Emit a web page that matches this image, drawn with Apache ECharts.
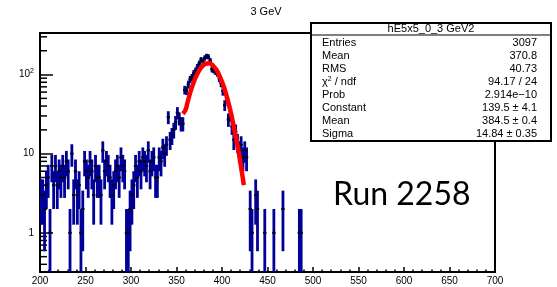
<!DOCTYPE html>
<html>
<head>
<meta charset="utf-8">
<script src="https://cdn.jsdelivr.net/npm/echarts@6/dist/echarts.min.js"></script>
<style>
  html, body { margin: 0; padding: 0; background: #fff; }
  #chart { width: 557px; height: 287px; }
</style>
</head>
<body>
<div id="chart"></div>
<script>
// histogram: 2-unit bins starting at 200 (bin centre = 201 + 2*i)
const binStart = 200;
const binWidth = 2;
const counts = [
  3, 3, 2, 4, 5, 1, 7, 4, 7, 4,
  6, 5, 7, 5, 8, 6, 1, 10, 3, 6,
  3, 4, 1, 2, 8, 6, 5, 8, 6, 3,
  7, 5, 5, 3, 11, 6, 8, 7, 5, 3,
  4, 6, 7, 5, 9, 7, 6, 1, 1, 2,
  3, 4, 7, 5, 8, 6, 9, 8, 7, 11,
  6, 8, 9, 5, 5, 9, 8, 12, 10, 13,
  29, 15, 17, 20, 25, 33, 28, 24, 24, 64,
  63, 75, 87, 92, 104, 112, 125, 138, 154, 147,
  162, 170, 168, 150, 117, 114, 109, 104, 90, 78,
  62, 41, 50, 27, 31, 22, 15, 19, 14, 11,
  13, 9, 11, 9, 0, 2, 1, 0, 3, 2,
  0, 0, 0, 1, 0, 0, 0, 0, 1, 0,
  0, 0, 0, 2, 0, 0, 0, 0, 0, 0,
  0, 0, 1, 1
];

// gaussian fit drawn in red
const fitX = [357, 360, 362, 366, 370, 374, 378, 382, 386, 390, 394, 398, 402, 406, 410, 414, 418, 422, 424];
const fitY = [32, 36, 44, 64, 86, 108, 126, 137, 139, 130, 114, 92, 70, 49, 32, 19, 11, 5.7, 4.0];

const yMinorTicks = [0.4, 0.5, 0.6, 0.7, 0.8, 0.9, 2, 3, 4, 5, 6, 7, 8, 9, 20, 30, 40, 50, 60, 70, 80, 90, 200, 300];

const statsTitle = 'hE5x5_0_3 GeV2';
const statLabels = ['Entries', 'Mean', 'RMS', '{n|χ}{s|2}{n| / ndf}', 'Prob', 'Constant', 'Mean', 'Sigma'];
const statValues = ['3097', '370.8', '40.73', '94.17 / 24', '2.914e\u221210', '139.5 \u00b1 4.1', '384.5 \u00b1 0.4', '14.84 \u00b1 0.35'];

const yMin = 0.32, yMax = 335;
const blue = '#000099';
const font = '"Liberation Sans", Arial, sans-serif';

const binData = [];
counts.forEach((c, i) => {
  if (c > 0) binData.push([binStart + binWidth * i + binWidth / 2, c]);
});
const fitData = fitX.map((x, i) => [x, fitY[i]]);

function renderErr(params, api) {
  const x = api.value(0), v = api.value(1);
  const cs = params.coordSys;
  const err = Math.sqrt(v);
  const top = api.coord([x, v + err]);
  const lo = v - err;
  const bottomY = lo > yMin ? api.coord([x, lo])[1] : cs.y + cs.height;
  return {
    type: 'rect',
    shape: { x: top[0] - 1.4, y: top[1], width: 2.8, height: bottomY - top[1] },
    style: { fill: blue }
  };
}

function renderMarker(params, api) {
  const p = api.coord([api.value(0), api.value(1)]);
  return {
    type: 'rect',
    shape: { x: p[0] - 1.7, y: p[1] - 1, width: 3.4, height: 2 },
    style: { fill: '#000' }
  };
}

function renderMinorTick(params, api) {
  const p = api.coord([binStart, api.value(0)]);
  return {
    type: 'line',
    shape: { x1: p[0], y1: p[1], x2: p[0] + 7, y2: p[1] },
    style: { stroke: '#000', lineWidth: 1.5 }
  };
}

const graphics = [
  { type: 'text', x: 266, y: 12, style: { text: '3 GeV', font: '11px ' + font, fill: '#000', align: 'center', verticalAlign: 'middle' } },
  { type: 'rect', shape: { x: 311, y: 23, width: 240, height: 118 }, style: { fill: '#fff', stroke: '#000', lineWidth: 2 }, z: 10 },
  { type: 'line', shape: { x1: 311, y1: 35, x2: 551, y2: 35 }, style: { stroke: '#000', lineWidth: 1.2 }, z: 11 },
  { type: 'text', x: 431, y: 29, style: { text: statsTitle, font: '11px ' + font, fill: '#000', align: 'center', verticalAlign: 'middle' }, z: 11 },
  { type: 'text', x: 333, y: 195, style: { text: 'Run 2258', font: '32px Lato, "Open Sans", sans-serif', fill: '#000', align: 'left', verticalAlign: 'middle' }, z: 11 }
];
statLabels.forEach((lab, k) => {
  const y = 42.6 + 13.1 * k;
  graphics.push({ type: 'text', x: 322, y: y, z: 11, style: {
    text: lab, font: '11px ' + font, fill: '#000', align: 'left', verticalAlign: 'middle',
    rich: { n: { fontSize: 11, fontFamily: font }, s: { fontSize: 7, fontFamily: font, verticalAlign: 'bottom', padding: [0, 0, 6, 0] } }
  } });
  graphics.push({ type: 'text', x: 537, y: y, z: 11, style: {
    text: statValues[k], font: '11px ' + font, fill: '#000', align: 'right', verticalAlign: 'middle'
  } });
});

const chart = echarts.init(document.getElementById('chart'), null, { renderer: 'canvas' });
chart.setOption({
  animation: false,
  backgroundColor: '#fff',
  grid: { left: 40, top: 33, right: 62, bottom: 15, containLabel: false, outerBoundsMode: 'none',
          show: true, borderColor: '#000', borderWidth: 2, backgroundColor: 'transparent' },
  xAxis: {
    type: 'value', min: 200, max: 700, interval: 50,
    axisLine: { show: true, lineStyle: { color: '#000', width: 2 } },
    axisTick: { show: true, inside: true, length: 5, lineStyle: { color: '#000', width: 1.5 } },
    minorTick: { show: true, splitNumber: 5, length: 2.5, lineStyle: { color: '#000', width: 1.5 } },
    axisLabel: { show: true, margin: 4, fontSize: 10, fontFamily: font, color: '#000' },
    splitLine: { show: false }, minorSplitLine: { show: false }
  },
  yAxis: {
    type: 'log', logBase: 10, min: yMin, max: yMax,
    axisLine: { show: true, lineStyle: { color: '#000', width: 2 } },
    axisTick: { show: true, inside: true, length: 13, lineStyle: { color: '#000', width: 1.5 } },
    axisLabel: {
      show: true, margin: 6, fontSize: 10, fontFamily: font, color: '#000',
      formatter: v => {
        const l = Math.log10(v);
        if (Math.abs(l - Math.round(l)) > 1e-6) return '';
        const e = Math.round(l);
        if (e === 0) return '1';
        if (e === 1) return '10';
        return '10{s|' + e + '}';
      },
      rich: { s: { fontSize: 7, fontFamily: font, color: '#000', verticalAlign: 'bottom', padding: [0, 0, 7, 0] } }
    },
    splitLine: { show: false }
  },
  series: [
    { type: 'custom', renderItem: renderMinorTick, data: yMinorTicks.map(v => [v]), encode: { y: 0 }, silent: true, z: 3 },
    { type: 'custom', renderItem: renderErr, data: binData, clip: true, silent: true, z: 4 },
    { type: 'custom', renderItem: renderMarker, data: binData, clip: true, silent: true, z: 5 },
    { type: 'line', data: fitData, smooth: true, showSymbol: false, silent: true, z: 6,
      lineStyle: { color: '#ff0000', width: 4.5 } }
  ],
  graphic: graphics
});
</script>
</body>
</html>
